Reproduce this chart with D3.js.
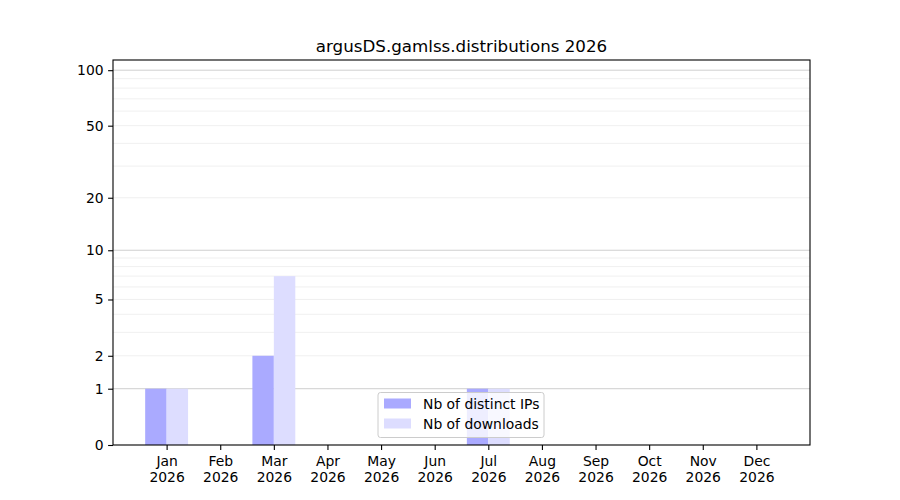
<!DOCTYPE html>
<html>
<head>
  <meta charset="utf-8">
  <title>argusDS.gamlss.distributions 2026</title>
  <style>
    body { margin: 0; background: #fff; }
    text { font-family: "DejaVu Sans", sans-serif; fill: #000; }
  </style>
</head>
<body>
  <div id="chart"></div>

  <script src="https://cdn.jsdelivr.net/npm/d3@7"></script>
  <script type="text/javascript">

  var months = ['Jan', 'Feb', 'Mar', 'Apr', 'May', 'Jun', 'Jul', 'Aug', 'Sep', 'Oct', 'Nov', 'Dec'];
  var year = '2026';
  var distinctIPs = [1, 0, 2, 0, 0, 0, 1, 0, 0, 0, 0, 0];
  var downloads   = [1, 0, 7, 0, 0, 0, 1, 0, 0, 0, 0, 0];
  var yTicks = [0, 1, 2, 5, 10, 20, 50, 100];
  var majorGrid = [1, 10, 100];
  var minorGrid = [2, 3, 4, 5, 6, 7, 8, 9, 20, 30, 40, 50, 60, 70, 80, 90];
  var seriesNames = ['Nb of distinct IPs', 'Nb of downloads'];
  var title = 'argusDS.gamlss.distributions 2026';

  var width = 900, height = 500;
  // note: "top" is taken by window.top, so use m* names
  var mLeft = 113, mRight = 810, mTop = 60, mBottom = 445;
  var yMax = 113.5;

  // log(1 + y) axis, like the matplotlib function scale
  function f(v){ return Math.log10(1 + v); }

  var x = d3.scaleLinear().domain([-1, 12]).range([mLeft, mRight]);
  var yl = d3.scaleLinear().domain([0, f(yMax)]).range([mBottom, mTop]);
  function y(v){ return yl(f(v)); }

  var svg = d3.select('#chart')
              .append('svg')
              .attr('width', width)
              .attr('height', height);

  // grid
  svg.append('g').selectAll('line')
      .data(minorGrid)
      .enter().append('line')
      .attr('x1', mLeft).attr('x2', mRight)
      .attr('y1', function(d){ return y(d); })
      .attr('y2', function(d){ return y(d); })
      .style('stroke', '#ececec')
      .style('stroke-width', 0.8);

  svg.append('g').selectAll('line')
      .data(majorGrid)
      .enter().append('line')
      .attr('x1', mLeft).attr('x2', mRight)
      .attr('y1', function(d){ return y(d); })
      .attr('y2', function(d){ return y(d); })
      .style('stroke', '#cfcfcf')
      .style('stroke-width', 1);

  var bw = 0.4;

  svg.append('g').selectAll('rect')
      .data(distinctIPs)
      .enter().append('rect')
      .attr('x', function(d, i){ return x(i - bw); })
      .attr('width', x(bw) - x(0))
      .attr('y', function(d){ return y(d); })
      .attr('height', function(d){ return mBottom - y(d); })
      .style('fill', '#aaaaff');

  svg.append('g').selectAll('rect')
      .data(downloads)
      .enter().append('rect')
      .attr('x', function(d, i){ return x(i); })
      .attr('width', x(bw) - x(0))
      .attr('y', function(d){ return y(d); })
      .attr('height', function(d){ return mBottom - y(d); })
      .style('fill', '#ddddff');

  // axes
  var yAxis = d3.axisLeft(yl)
      .tickValues(yTicks.map(f))
      .tickFormat(function(d, i){ return yTicks[i]; })
      .tickSize(4.9)
      .tickPadding(4.5);

  var ga = svg.append('g')
      .attr('transform', 'translate(' + mLeft + ',0)')
      .call(yAxis);
  ga.select('.domain').remove();
  ga.selectAll('text').style('font-size', '13.9px').style('font-family', '"DejaVu Sans", sans-serif');
  ga.selectAll('line').style('stroke-width', 1.1);

  var xAxis = d3.axisBottom(x)
      .tickValues(d3.range(months.length))
      .tickFormat('')
      .tickSize(4.9);

  var gx = svg.append('g')
      .attr('transform', 'translate(0,' + mBottom + ')')
      .call(xAxis);
  gx.select('.domain').remove();
  gx.selectAll('line').style('stroke-width', 1.1);

  var labels = gx.selectAll('.tick').append('text')
      .attr('text-anchor', 'middle')
      .style('font-size', '13.9px')
      .style('fill', '#000');
  labels.append('tspan').attr('x', 0).attr('y', 21)
      .text(function(d){ return months[d]; });
  labels.append('tspan').attr('x', 0).attr('y', 37)
      .text(year);

  // frame
  svg.append('rect')
      .attr('x', mLeft).attr('y', mTop)
      .attr('width', mRight - mLeft).attr('height', mBottom - mTop)
      .style('fill', 'none')
      .style('stroke', '#000')
      .style('stroke-width', 1.1);

  svg.append('text')
      .attr('x', (mLeft + mRight) / 2)
      .attr('y', 52)
      .attr('text-anchor', 'middle')
      .style('font-size', '16.7px')
      .text(title);

  // legend
  var lg = svg.append('g').attr('transform', 'translate(378,392.5)');
  lg.append('rect')
      .attr('width', 166).attr('height', 45)
      .attr('rx', 2.5)
      .style('fill', '#fff').style('fill-opacity', 0.8)
      .style('stroke', '#cccccc').style('stroke-width', 1);

  var item = lg.selectAll('.item')
      .data(seriesNames)
      .enter().append('g')
      .attr('transform', function(d, i){ return 'translate(6,' + (6 + i * 20) + ')'; });
  item.append('rect')
      .attr('width', 27).attr('height', 10)
      .style('fill', function(d, i){ return i ? '#ddddff' : '#aaaaff'; });
  item.append('text')
      .attr('x', 39).attr('y', 10)
      .style('font-size', '13.9px')
      .text(function(d){ return d; });

  </script>
</body>
</html>
